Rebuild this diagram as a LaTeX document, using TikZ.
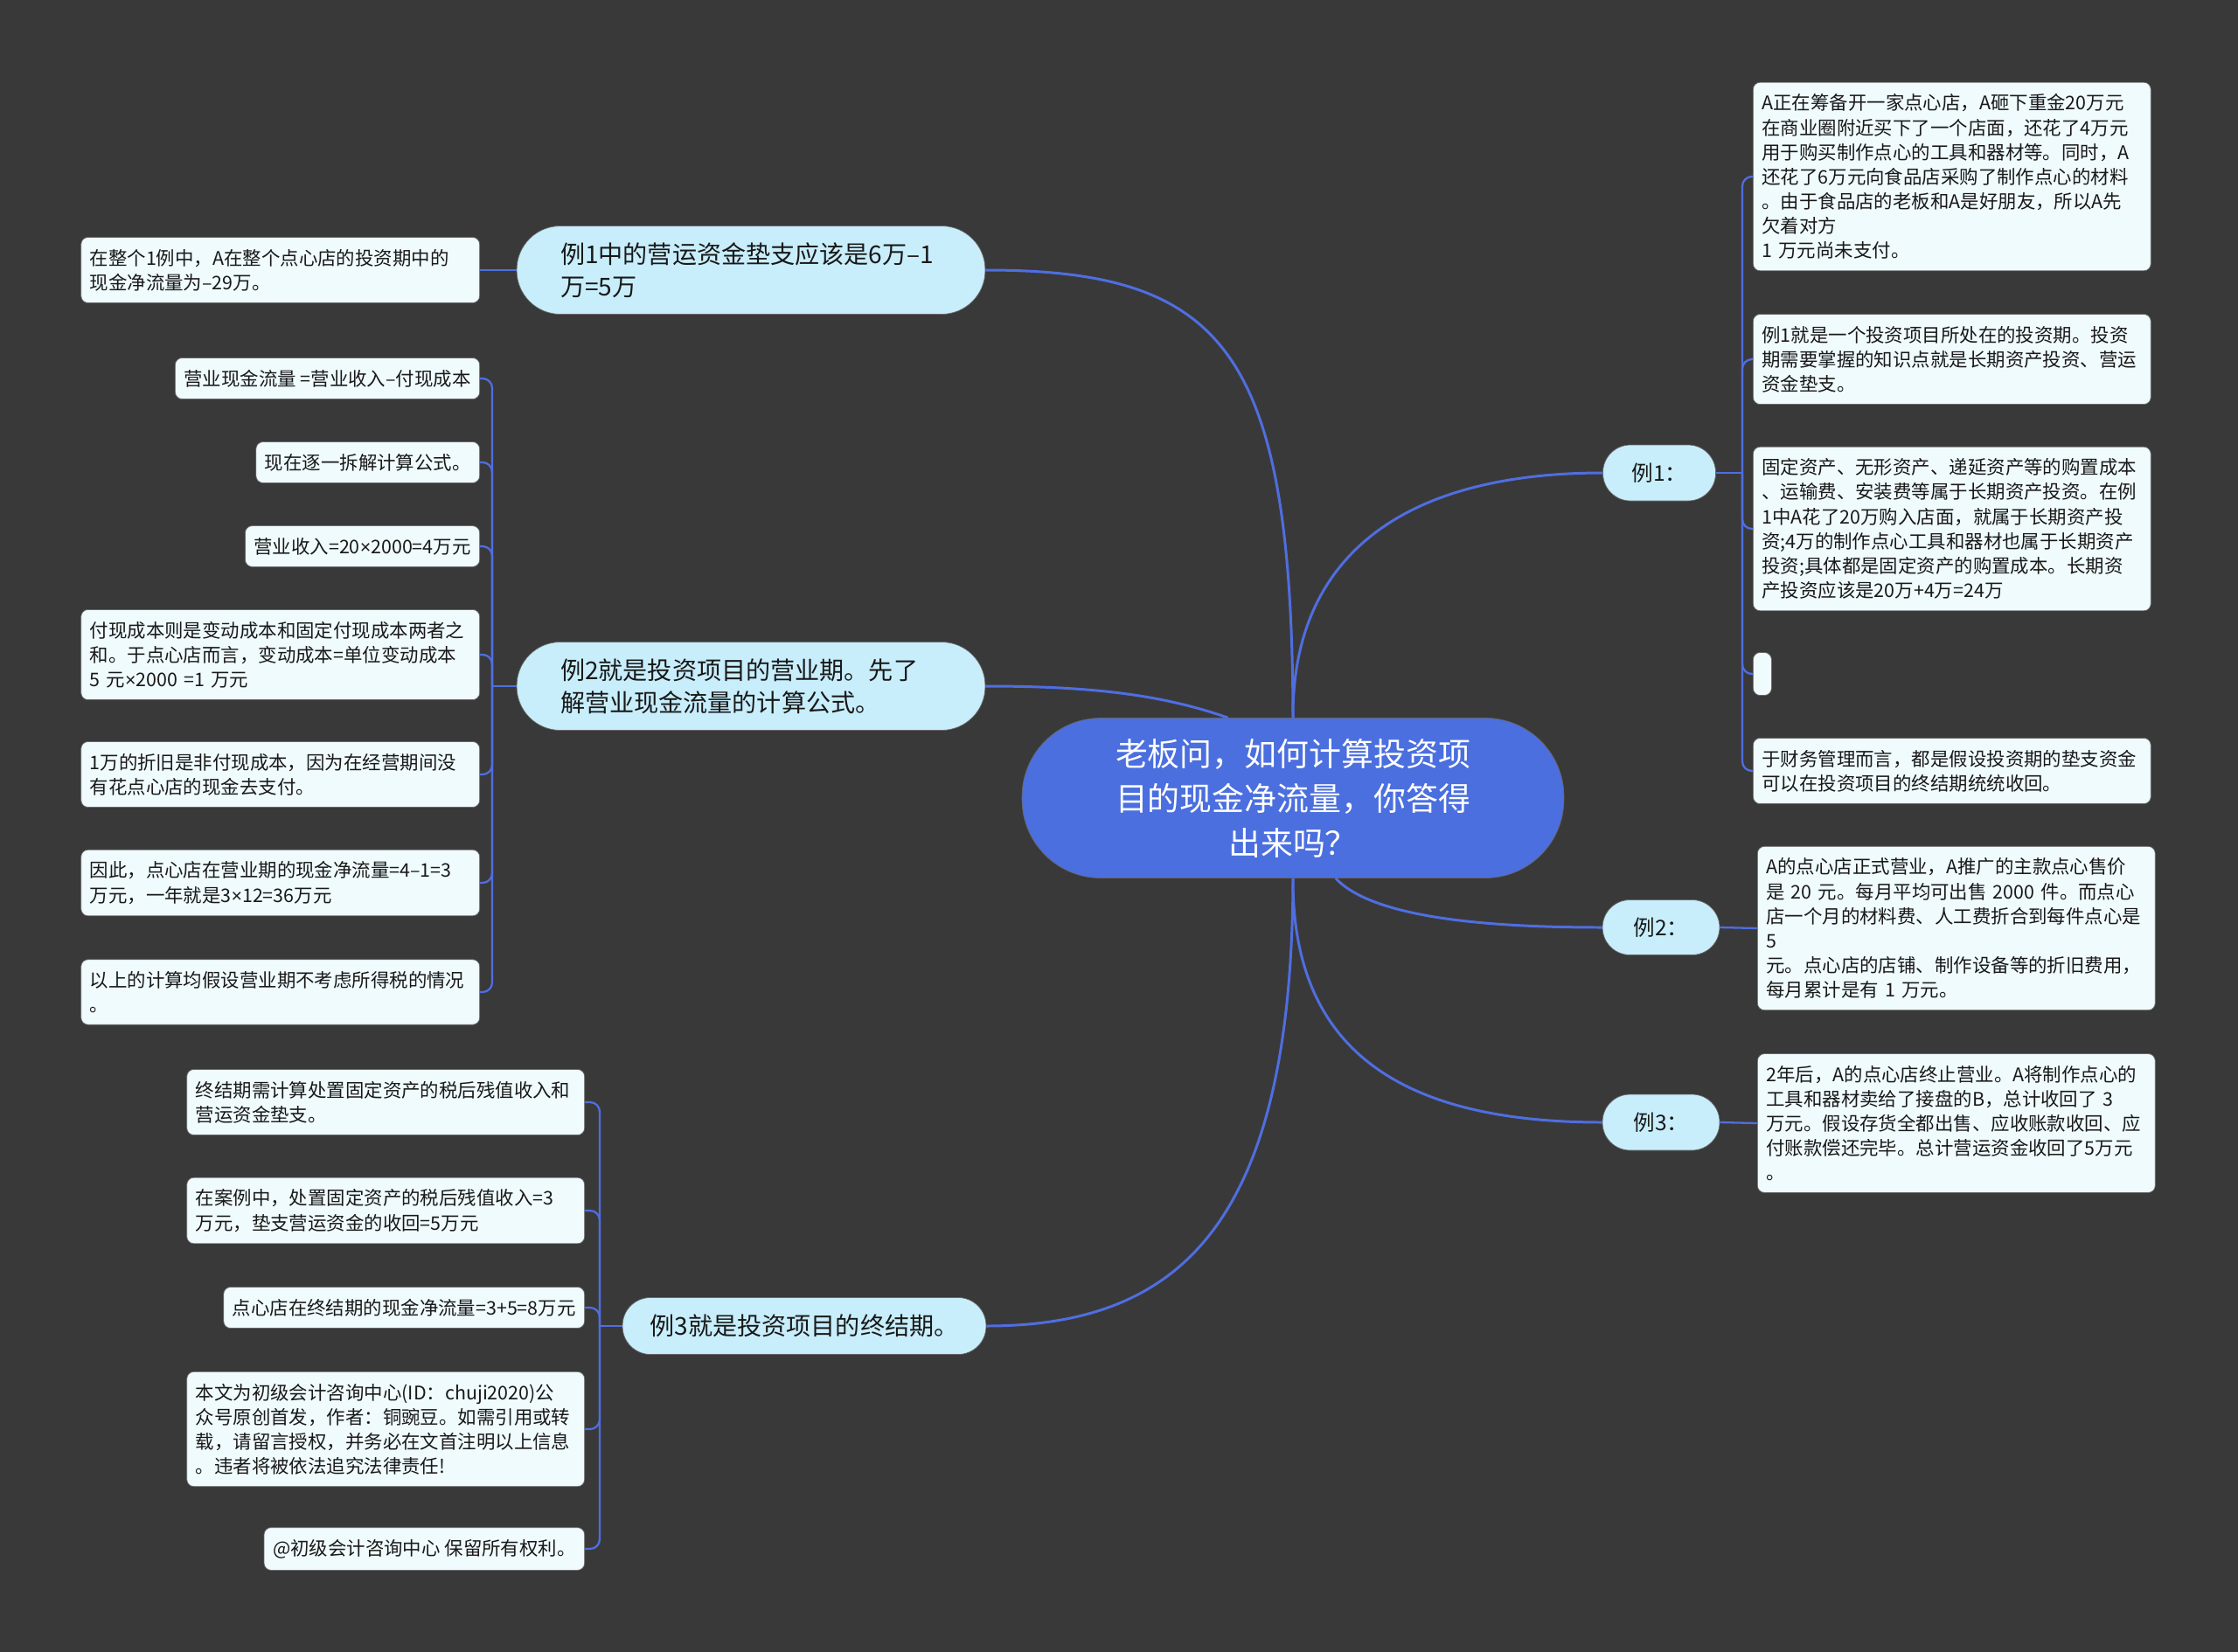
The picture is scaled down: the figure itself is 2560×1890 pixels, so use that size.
\documentclass[tikz,border=0pt]{standalone}
\usepackage{fontspec}
\setmainfont{Noto Sans CJK SC}
\newfontfamily\latinfont{Liberation Sans}
\usetikzlibrary{positioning}
\definecolor{bgdark}{HTML}{3A393A}
\definecolor{rootblue}{HTML}{4B6FDE}
\definecolor{topicblue}{HTML}{C8EEFC}
\definecolor{leafwhite}{HTML}{F0FBFE}
\definecolor{linkblue}{HTML}{4F6EE0}
\newcommand{\BackColor}{bgdark}
\newcommand{\RootColor}{rootblue}
\newcommand{\TopicColor}{topicblue}
\newcommand{\LeafColor}{leafwhite}
\newcommand{\LinkColor}{linkblue}
\newcommand{\Times}{{\latinfont ×}}

\begin{document}
\begin{tikzpicture}[
	x=0.02cm, y=-0.02cm,
	% Define styles and settings
	root/.style={rectangle, draw=black!60, fill=\RootColor, text=white, rounded corners=1.8cm, align=center, minimum width=12.4cm, minimum height=3.66cm, font=\fontsize{21pt}{29pt}\selectfont},
	topic/.style={rectangle, draw=black!60, fill=\TopicColor, text=black!90, font=\fontsize{16pt}{21pt}\selectfont},
	leaf/.style={rectangle, draw=black!60, fill=\LeafColor, text=black!90, rounded corners=0.16cm, align=left, inner xsep=0.2cm, inner ysep=0.27cm, font=\fontsize{12.2pt}{16pt}\selectfont},
	link/.style={draw=\LinkColor, line width=1.7pt},
	twig/.style={draw=\LinkColor, line width=1.3pt, rounded corners=0.22cm}
	]
	% \draw[help lines] (0,0) grid[step=100] (2560,1890);
	\fill[\BackColor] (0,0) rectangle (2560,1890);

	\draw (1479,913) node[root] (Root) {老板问，如何计算投资项\\目的现金净流量，你答得\\出来吗？};

	% left topics
	\draw (859,309) node[topic, rounded corners=1cm, minimum width=10.72cm, minimum height=2.02cm, inner xsep=1cm, text width=8.72cm, align=left] (Topic_1) {例1中的营运资金垫支应该是6万–1\\万=5万};
	\draw (859,785) node[topic, rounded corners=1cm, minimum width=10.72cm, minimum height=2.02cm, inner xsep=1cm, text width=8.72cm, align=left] (Topic_2) {例2就是投资项目的营业期。先了\\解营业现金流量的计算公式。};
	\draw (920,1517) node[topic, rounded corners=0.64cm, minimum width=8.32cm, minimum height=1.3cm] (Topic_3) {例3就是投资项目的终结期。};

	% right topics
	\draw (1898,541) node[topic, rounded corners=0.63cm, minimum width=2.58cm, minimum height=1.28cm, font=\fontsize{14pt}{18pt}\selectfont] (Case_1) {例1：};
	\draw (1900,1061) node[topic, rounded corners=0.63cm, minimum width=2.68cm, minimum height=1.26cm, font=\fontsize{14pt}{18pt}\selectfont] (Case_2) {例2：};
	\draw (1900,1284) node[topic, rounded corners=0.63cm, minimum width=2.68cm, minimum height=1.28cm, font=\fontsize{14pt}{18pt}\selectfont] (Case_3) {例3：};

	% leaves of Topic_1
	\draw (549,309) node[leaf, anchor=east, text width=8.72cm] (Net_1) {在整个1例中，A在整个点心店的投资期中的\\现金净流量为–29万。};

	% leaves of Topic_2
	\draw (549,433) node[leaf, anchor=east] (Op_1) {营业现金流量 =营业收入–付现成本};
	\draw (549,529) node[leaf, anchor=east] (Op_2) {现在逐一拆解计算公式。};
	\draw (549,625) node[leaf, anchor=east] (Op_3) {营业收入=20\Times2000=4万元};
	\draw (549,749) node[leaf, anchor=east, text width=8.72cm] (Op_4) {付现成本则是变动成本和固定付现成本两者之\\和。于点心店而言，变动成本=单位变动成本\\5 元\Times2000 =1 万元};
	\draw (549,886) node[leaf, anchor=east, text width=8.72cm] (Op_5) {1万的折旧是非付现成本，因为在经营期间没\\有花点心店的现金去支付。};
	\draw (549,1010) node[leaf, anchor=east, text width=8.72cm] (Op_6) {因此，点心店在营业期的现金净流量=4–1=3\\万元，一年就是3\Times12=36万元};
	\draw (549,1135) node[leaf, anchor=east, text width=8.72cm] (Op_7) {以上的计算均假设营业期不考虑所得税的情况\\。};

	% leaves of Topic_3
	\draw (669,1261) node[leaf, anchor=east, text width=8.7cm] (End_1) {终结期需计算处置固定资产的税后残值收入和\\营运资金垫支。};
	\draw (669,1385) node[leaf, anchor=east, text width=8.7cm] (End_2) {在案例中，处置固定资产的税后残值收入=3\\万元，垫支营运资金的收回=5万元};
	\draw (669,1496) node[leaf, anchor=east] (End_3) {点心店在终结期的现金净流量=3+5=8万元};
	\draw (669,1635) node[leaf, anchor=east, text width=8.7cm] (End_4) {本文为初级会计咨询中心(ID：chuji2020)公\\众号原创首发，作者：铜豌豆。如需引用或转\\载，请留言授权，并务必在文首注明以上信息\\。违者将被依法追究法律责任!};
	\draw (669,1772) node[leaf, anchor=east] (End_5) {@初级会计咨询中心 保留所有权利。};

	% leaves of Case_1
	\draw (2005,202) node[leaf, anchor=west, text width=8.7cm] (Inv_1) {A正在筹备开一家点心店，A砸下重金20万元\\在商业圈附近买下了一个店面，还花了4万元\\用于购买制作点心的工具和器材等。同时，A\\还花了6万元向食品店采购了制作点心的材料\\。由于食品店的老板和A是好朋友，所以A先\\欠着对方\\1 万元尚未支付。};
	\draw (2005,411) node[leaf, anchor=west, text width=8.7cm] (Inv_2) {例1就是一个投资项目所处在的投资期。投资\\期需要掌握的知识点就是长期资产投资、营运\\资金垫支。};
	\draw (2005,605) node[leaf, anchor=west, text width=8.7cm] (Inv_3) {固定资产、无形资产、递延资产等的购置成本\\、运输费、安装费等属于长期资产投资。在例\\1中A花了20万购入店面，就属于长期资产投\\资;4万的制作点心工具和器材也属于长期资产\\投资;具体都是固定资产的购置成本。长期资\\产投资应该是20万+4万=24万};
	\draw (2005,771) node[leaf, anchor=west, inner sep=0pt, minimum width=0.42cm, minimum height=0.98cm] (Inv_4) {};
	\draw (2005,882) node[leaf, anchor=west, text width=8.7cm] (Inv_5) {于财务管理而言，都是假设投资期的垫支资金\\可以在投资项目的终结期统统收回。};

	% leaves of Case_2 and Case_3
	\draw (2010,1062) node[leaf, anchor=west, text width=8.7cm] (Run_1) {A的点心店正式营业，A推广的主款点心售价\\是 20 元。每月平均可出售 2000 件。而点心\\店一个月的材料费、人工费折合到每件点心是\\ 5\\元。点心店的店铺、制作设备等的折旧费用，\\每月累计是有 1 万元。};
	\draw (2010,1285) node[leaf, anchor=west, text width=8.7cm] (Close_1) {2年后，A的点心店终止营业。A将制作点心的\\工具和器材卖给了接盘的B，总计收回了 3\\万元。假设存货全都出售、应收账款收回、应\\付账款偿还完毕。总计营运资金收回了5万元\\。};

	% root links
	\draw[link] (Root.north) .. controls (1478,400) and (1400,309) .. (Topic_1.east);
	\draw[link] (Root.129) .. controls (1330,795) and (1250,785) .. (Topic_2.east);
	\draw[link] (Root.south) .. controls (1478,1400) and (1350,1517) .. (Topic_3.east);
	\draw[link] (Root.north) .. controls (1478,640) and (1600,541) .. (Case_1.west);
	\draw[link] (Root.298) .. controls (1570,1050) and (1700,1061) .. (Case_2.west);
	\draw[link] (Root.south) .. controls (1478,1200) and (1600,1284) .. (Case_3.west);

	% twigs
	\coordinate (Fork_2) at (563,785);
	\coordinate (Fork_3) at (686,1517);
	\coordinate (Fork_1) at (1993,541);

	\draw[link, line width=1.3pt] (Topic_1.west) -- (Net_1.east);

	\draw[twig] (Topic_2.west) -- (Fork_2);
	\foreach \leafname in {Op_1,Op_2,Op_3,Op_4,Op_5,Op_6,Op_7}
		\draw[twig] (Fork_2) |- (\leafname.east);

	\draw[twig] (Topic_3.west) -- (Fork_3);
	\foreach \leafname in {End_1,End_2,End_3,End_4,End_5}
		\draw[twig] (Fork_3) |- (\leafname.east);

	\draw[twig] (Case_1.east) -- (Fork_1);
	\foreach \leafname in {Inv_1,Inv_2,Inv_3,Inv_4,Inv_5}
		\draw[twig] (Fork_1) |- (\leafname.west);

	\draw[link, line width=1.3pt] (Case_2.east) -- (Run_1.west);
	\draw[link, line width=1.3pt] (Case_3.east) -- (Close_1.west);

\end{tikzpicture}
\end{document}
